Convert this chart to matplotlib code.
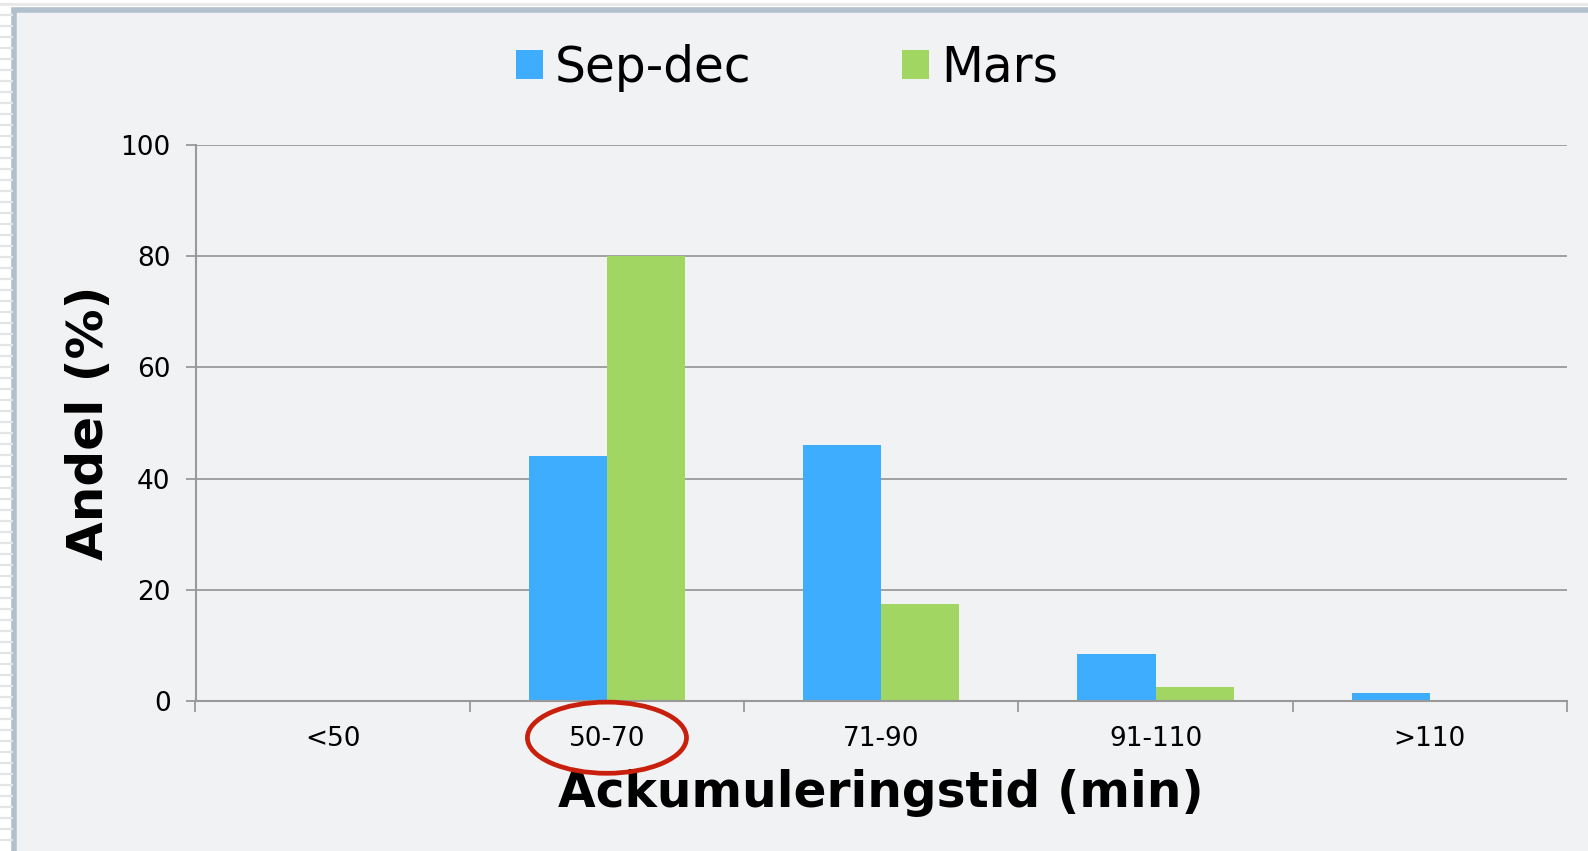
import numpy as np
import matplotlib.pyplot as plt
from matplotlib.patches import Rectangle, Ellipse
from matplotlib.lines import Line2D
import matplotlib.transforms as mtransforms

categories = ['<50', '50-70', '71-90', '91-110', '>110']
sep_dec = [0, 44, 46, 8.5, 1.5]
mars = [0, 80, 17.5, 2.5, 0]
series_names = ['Sep-dec', 'Mars']
yticks = [0, 20, 40, 60, 80, 100]

W, H = 1588, 851
fig = plt.figure(figsize=(W / 100, H / 100), dpi=100, facecolor='white')

# slide-like frame and background
for yy in np.arange(4, H, 11):
    fig.add_artist(Line2D([0, 12 / W], [1 - yy / H] * 2, transform=fig.transFigure,
                          color='#e2e4e6', lw=1.6))
fig.add_artist(Line2D([0, 1], [1 - 4 / H] * 2, transform=fig.transFigure, color='#e8e8e8', lw=2))
fig.add_artist(Rectangle((14 / W, -0.05), 1.1, 1 - 10 / H + 0.05, transform=fig.transFigure,
                         facecolor='#f1f2f4', edgecolor='#b2c0ce', lw=4, zorder=0))

ax = fig.add_axes([195.5 / W, 1 - 701 / H, (1567 - 195.5) / W, (701 - 145) / H])
ax.set_facecolor('none')

x = np.arange(len(categories))
bw = 0.285
ax.bar(x - bw / 2, sep_dec, bw, color='#3fadfe', label=series_names[0], zorder=3)
ax.bar(x + bw / 2, mars, bw, color='#a2d662', label=series_names[1], zorder=3)

ax.set_xlim(-0.5, len(categories) - 0.5)
ax.set_ylim(0, 100)
ax.set_yticks(yticks)
ax.set_xticks(x)
ax.set_xticklabels(categories)
ax.set_xticks(np.arange(-0.5, len(categories), 1), minor=True)
ax.tick_params(axis='x', which='major', length=0, labelsize=19, pad=18)
ax.tick_params(axis='x', which='minor', length=8, width=1.3, color='#999999')
ax.tick_params(axis='y', length=7, width=1.3, color='#999999', labelsize=19, pad=11)

ax.grid(axis='y', color='#9a9a9a', lw=1.3, zorder=1)
for s in ['top', 'right']:
    ax.spines[s].set_visible(False)
for s in ['left', 'bottom']:
    ax.spines[s].set_color('#999999')
    ax.spines[s].set_linewidth(1.5)
ax.spines['bottom'].set_zorder(4)

ax.set_xlabel('Ackumuleringstid (min)', fontsize=35, fontweight='bold', labelpad=12)
ax.set_ylabel('Andel (%)', fontsize=36, fontweight='bold', labelpad=5)

# highlight around the 50-70 label
trans = mtransforms.blended_transform_factory(ax.transData, ax.transAxes)
ax.add_patch(Ellipse((1, -0.066), 0.58, 0.128, transform=trans, fill=False,
                     edgecolor='#c8200c', lw=3.4, clip_on=False, zorder=5))

ax.legend(ncol=2, loc='center', bbox_to_anchor=(787 / W, 1 - 68 / H),
          bbox_transform=fig.transFigure, frameon=False, fontsize=35,
          handlelength=0.55, handleheight=0.55, handletextpad=0.25, columnspacing=3.1)

fig.savefig('out.png', dpi=100, facecolor=fig.get_facecolor())
